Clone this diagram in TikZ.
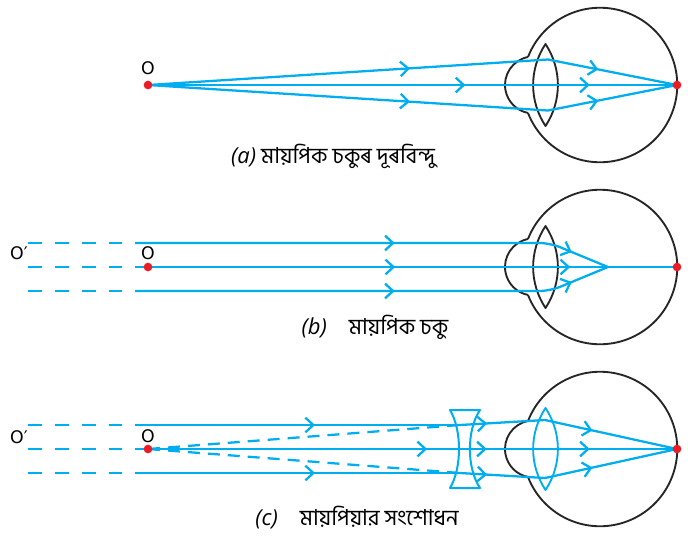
\documentclass[tikz,border=0pt]{standalone}
\usepackage{fontspec}
\newfontfamily\bnfont[Script=Bengali]{Hind Siliguri}
\newfontfamily\lblfont{DejaVu Sans}
\newfontfamily\capfont{Open Sans}
\usetikzlibrary{arrows.meta, decorations.markings}
\definecolor{raycol}{HTML}{00AEEF}
\definecolor{dotcol}{HTML}{ED1C24}

\begin{document}
\begin{tikzpicture}[x=0.75pt, y=-0.75pt, line join=round,
	ray/.style={draw=raycol, line width=1.7pt},
	back/.style={ray, dash pattern=on 10.5pt off 9.75pt},
	virt/.style={ray, dash pattern=on 9pt off 6pt},
	eyeline/.style={draw=black!85, line width=1.4pt},
	dot/.style={circle, fill=dotcol, inner sep=0pt, minimum size=6.5pt},
	lbl/.style={font=\lblfont\fontsize{13}{15}\selectfont, inner sep=0pt},
	caption/.style={font=\bnfont\fontsize{16.5}{19}\selectfont, inner sep=0pt},
	mid/.style={postaction={decorate, decoration={markings,
		mark=at position #1 with {\arrow[raycol, line width=1.7pt]{Straight Barb[length=6pt, width=11pt]}}}}}]
	\useasboundingbox (0,0) rectangle (688,537);

	% the three eyes, lens black for (a),(b) and blue for (c)
	\foreach \cy/\lc in {85/black!85, 267/black!85, 449/raycol} {
		\draw[eyeline] (528,\cy-28) arc[start angle=201.25, end angle=518.75, radius=77.25];
		\draw[eyeline] (528,\cy-28) arc[start angle=258.9, end angle=101.1, radius=28.5];
		\draw[eyeline, draw=\lc] (545.5,\cy-41) .. controls (529,\cy-16) and (529,\cy+16) .. (545.5,\cy+41)
			.. controls (562,\cy+16) and (562,\cy-16) .. cycle;
	}

	% (a) far point
	\coordinate (Oa) at (148,85);
	\coordinate (Ra) at (677,85);
	\coordinate (ta) at (548,59.5);
	\coordinate (ba) at (548,110.5);
	\node[lbl] at (148,68) {O};
	\draw[ray, mid=0.655] (Oa) -- (ta);
	\draw[ray, mid=0.655] (Oa) -- (ba);
	\draw[ray, mid=0.39] (ta) -- (Ra);
	\draw[ray, mid=0.39] (ba) -- (Ra);
	\draw[ray, mid=0.6, mid=0.835] (Oa) -- (Ra);
	\node[caption] at (333,156) {{\capfont\itshape (a)} মায়পিক চকুৰ দূৰবিন্দু};

	% (b) myopic eye
	\coordinate (Ob) at (148,267);
	\coordinate (Rb) at (677,267);
	\coordinate (Fb) at (608,267);
	\node[lbl] at (148,253) {O};
	\node[lbl] at (19,253) {O′};
	\foreach \y in {243,267,291}
		\draw[back] (28,\y) -- (122,\y);
	\draw[ray, rounded corners=8, mid=0.544, mid=0.918] (135,243) -- (550,243) -- (Fb);
	\draw[ray, rounded corners=8, mid=0.544, mid=0.918] (135,291) -- (550,291) -- (Fb);
	\draw[ray, mid=0.48, mid=0.803] (135,267) -- (Rb);
	\node[caption] at (375,327) {{\capfont\itshape (b)}\quad মায়পিক চকু};

	% (c) corrected with a concave lens
	\coordinate (Oc) at (148,449);
	\coordinate (Rc) at (677,449);
	\coordinate (tc) at (460,425);
	\coordinate (bc) at (460,473);
	\coordinate (tl) at (545,420);
	\coordinate (bl) at (545,478);
	\node[lbl] at (148,436) {O};
	\node[lbl] at (19,437) {O′};
	\foreach \y in {425,449,473}
		\draw[back] (28,\y) -- (122,\y);
	\draw[ray, mid=0.554] (135,425) -- (tc);
	\draw[ray, mid=0.554] (135,473) -- (bc);
	\draw[virt] (Oc) -- (tc);
	\draw[virt] (Oc) -- (bc);
	\draw[ray, mid=0.32] (tc) -- (tl);
	\draw[ray, mid=0.32] (bc) -- (bl);
	\draw[ray, mid=0.36] (tl) -- (Rc);
	\draw[ray, mid=0.36] (bl) -- (Rc);
	\draw[ray, mid=0.539, mid=0.649, mid=0.839] (135,449) -- (Rc);
	\draw[ray, line width=1.5pt] (450,410) -- (480,410) .. controls (466.5,430) and (466.5,468) .. (480,488)
		-- (450,488) .. controls (462,468) and (462,430) .. cycle;
	\node[caption] at (357,518) {{\capfont\itshape (c)}\quad মায়পিয়ার সংশোধন};

	% object and image points
	\foreach \p in {Oa,Ra,Ob,Rb,Oc,Rc}
		\node[dot] at (\p) {};
\end{tikzpicture}
\end{document}
